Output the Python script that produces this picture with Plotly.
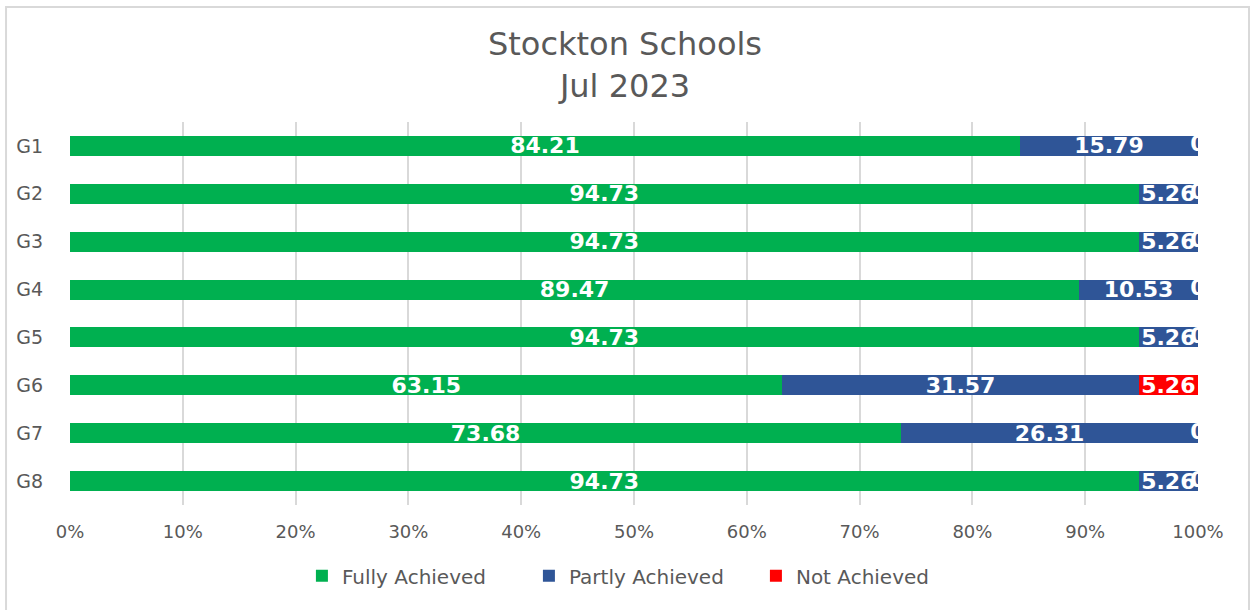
import plotly.graph_objects as go

# ─── Data ────────────────────────────────────────────────────────────────────
groups = ["G1", "G2", "G3", "G4", "G5", "G6", "G7", "G8"]
fully = [84.21, 94.73, 94.73, 89.47, 94.73, 63.15, 73.68, 94.73]
partly = [15.79, 5.26, 5.26, 10.53, 5.26, 31.57, 26.31, 5.26]
not_ach = [0, 0, 0, 0, 0, 5.26, 0, 0]

GREEN = "#00B050"
BLUE = "#2F5597"
RED = "#FF0000"
GREY = "#595959"
FONT = "DejaVu Sans, sans-serif"

fig = go.Figure()
for name, vals, col in [("Fully Achieved", fully, GREEN),
                        ("Partly Achieved", partly, BLUE),
                        ("Not Achieved", not_ach, RED)]:
    fig.add_trace(go.Bar(
        y=groups, x=vals, name=name, orientation="h",
        marker=dict(color=col, line=dict(width=0)),
        text=[f"{v:g}" if v else "" for v in vals],
        textposition="inside", insidetextanchor="middle",
        textfont=dict(color="white", size=22, family=FONT, weight="bold"),
        constraintext="none",
    ))

# zero labels sit at the right end of each bar (Excel shows them clipped)
zero_x, zero_y = [], []
for g, a, b, c in zip(groups, fully, partly, not_ach):
    if c == 0:
        zero_x.append((a + b + c) / (a + b + c) * 100)
        zero_y.append(g)
fig.add_trace(go.Scatter(
    x=zero_x, y=zero_y, mode="text", text=["0"] * len(zero_x),
    textposition="middle center", cliponaxis=True, showlegend=False,
    textfont=dict(color="white", size=22, family=FONT, weight="bold"),
    hoverinfo="skip",
))

fig.update_layout(
    barmode="stack", barnorm="percent", bargap=0.58,
    width=1250, height=610,
    paper_bgcolor="white", plot_bgcolor="white",
    font=dict(family=FONT, color=GREY),
    title=dict(text="Stockton Schools<br>Jul 2023", x=0.5, xanchor="center",
               yref="container", y=0.91, yanchor="middle",
               font=dict(size=32, color=GREY)),
    margin=dict(l=70, r=52, t=122, b=105, autoexpand=False),
    legend=dict(orientation="h", x=0.2056, xanchor="left", y=-0.134, yanchor="top",
                font=dict(size=20, color=GREY), traceorder="normal",
                entrywidth=182),
    showlegend=True,
)
fig.update_xaxes(range=[0, 100], dtick=10, ticksuffix="%", showgrid=True,
                 gridcolor="#D9D9D9", gridwidth=2, zeroline=False,
                 tickfont=dict(size=18, color=GREY), ticks="", showline=False,
                 ticklabelstandoff=14, automargin=False)
fig.update_yaxes(autorange="reversed", showgrid=False, ticks="",
                 tickfont=dict(size=19, color=GREY), ticklabelstandoff=26,
                 automargin=False)

# chart frame
fig.add_shape(type="rect", xref="paper", yref="paper",
              x0=-0.0567, x1=1.0452, y0=-0.29, y1=1.30,
              line=dict(color="#D9D9D9", width=2))

fig.write_html("out.html", config={"displayModeBar": False},
               post_script="document.body.style.margin='0';")
